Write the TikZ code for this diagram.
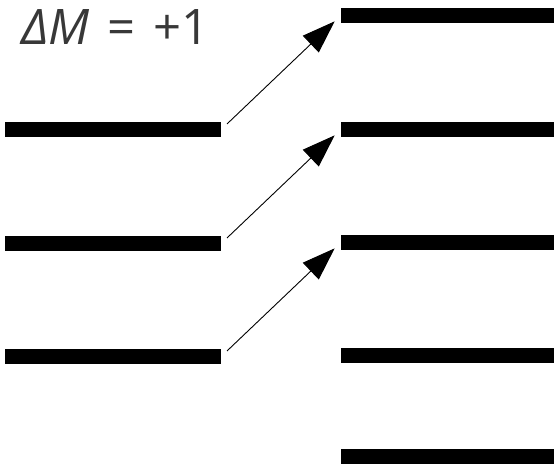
\documentclass[tikz,border=0pt]{standalone}
\usepackage{fontspec}
\newfontfamily\osf{Open Sans}
\usetikzlibrary{arrows.meta}
\definecolor{txtgray}{HTML}{383838}
\tikzset{
  level/.style={fill=black, draw=none, inner sep=0pt, minimum height=15pt, rectangle},
  lbar/.style={level, minimum width=216pt},
  rbar/.style={level, minimum width=214pt},
  trans/.style={line width=0.9pt, shorten <=8pt, shorten >=8.5pt,
    -{Triangle[length=33pt,width=23pt]}},
}
\begin{document}
\begin{tikzpicture}[x=1pt,y=-1pt]
\useasboundingbox (0,0) rectangle (554,468);
% left levels
\node[lbar] (L1) at (113,129.5) {};
\node[lbar] (L2) at (113,243.5) {};
\node[lbar] (L3) at (113,356.5) {};
% right levels
\node[rbar] (R0) at (448,15.5) {};
\node[rbar] (R1) at (448,129.5) {};
\node[rbar] (R2) at (448,242.5) {};
\node[rbar] (R3) at (448,355.5) {};
\node[rbar] (R4) at (448,456.5) {};
% transitions
\draw[trans] (L1.east) -- (R0.west);
\draw[trans] (L2.east) -- (R1.west);
\draw[trans] (L3.east) -- (R2.west);
% label
\node[anchor=base west, inner sep=0pt, text=txtgray, font=\osf\fontsize{49}{58}\selectfont] (lab) at (21,44.5) {\textit{ΔM}\hspace{0.36em}=\hspace{0.36em}+1};
\end{tikzpicture}
\end{document}
